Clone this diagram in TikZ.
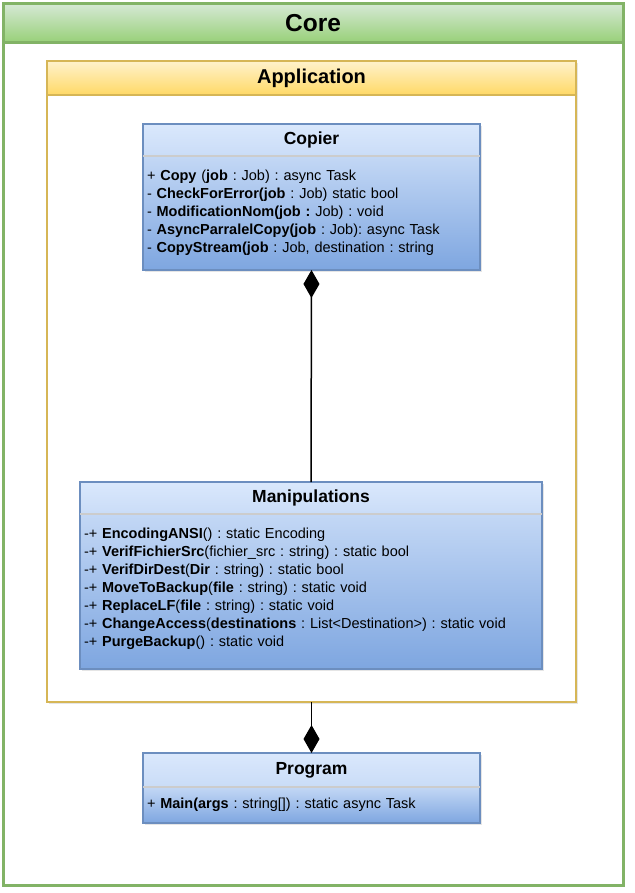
\documentclass[tikz,border=0pt]{standalone}
\usepackage{fontspec}
\setmainfont{Liberation Sans}
\usetikzlibrary{positioning,arrows.meta,shadows}
\frenchspacing

\definecolor{coreTop}{HTML}{D5E8D4}
\definecolor{coreBot}{HTML}{97D077}
\definecolor{coreLine}{HTML}{82B366}
\definecolor{appTop}{HTML}{FFF2CC}
\definecolor{appBot}{HTML}{FFD966}
\definecolor{appLine}{HTML}{D6B656}
\definecolor{classTop}{HTML}{DAE8FC}
\definecolor{classBot}{HTML}{7EA6E0}
\definecolor{classLine}{HTML}{6C8EBF}

\begin{document}
\begin{tikzpicture}[x=1pt,y=-1pt]
  \tikzset{BoxStyle/.style = {
    shape         = rectangle,
    draw          = none,
    inner sep     = 0pt,
    outer sep     = 0pt,
    text          = black,
    drop shadow   = {shadow xshift=2pt, shadow yshift=-2pt, opacity=0.2}
    }
  }
  \tikzset{CoreHeadStyle/.style = {
    BoxStyle,
    anchor        = north west,
    top color     = coreTop,
    bottom color  = coreBot,
    minimum width = 620pt,
    minimum height= 39pt,
    font          = \fontsize{24.5}{28}\selectfont\bfseries
    }
  }
  \tikzset{AppHeadStyle/.style = {
    BoxStyle,
    anchor        = north west,
    top color     = appTop,
    bottom color  = appBot,
    minimum width = 529pt,
    minimum height= 34pt,
    font          = \fontsize{20}{24}\selectfont\bfseries
    }
  }
  \tikzset{BlankBodyStyle/.style = {
    BoxStyle,
    fill          = white
    }
  }
  \tikzset{ClassHeadStyle/.style = {
    BoxStyle,
    anchor        = north west,
    top color     = classTop,
    bottom color  = classTop!82!classBot,
    font          = \fontsize{17.5}{21}\selectfont\bfseries
    }
  }
  \tikzset{ClassBodyStyle/.style = {
    BoxStyle,
    top color     = classTop!75!classBot,
    bottom color  = classBot,
    inner xsep    = 4pt,
    align         = left,
    font          = \fontsize{14.5}{18}\selectfont
    }
  }
  \tikzset{CoreLineStyle/.style  = {draw = coreLine,  line width = 3pt}}
  \tikzset{AppLineStyle/.style   = {draw = appLine,   line width = 1.5pt}}
  \tikzset{ClassLineStyle/.style = {draw = classLine, line width = 1.5pt}}
  \tikzset{SepLineStyle/.style   = {draw = black!20,  line width = 1.2pt}}
  \tikzset{CompositionStyle/.style = {
    draw          = black,
    line width    = 1.5pt,
    -{Diamond[length=28pt, width=16pt]}
    }
  }

  \useasboundingbox (0,0) rectangle (634,893);

  % Core container
  \node[CoreHeadStyle](coreHead) at (3,4) {Core};
  \node[BlankBodyStyle, minimum width=620pt, minimum height=842pt,
        below=0pt of coreHead](coreBody) {};
  \draw[CoreLineStyle](coreHead.north west) rectangle (coreBody.south east);
  \draw[CoreLineStyle](coreHead.south west) -- (coreHead.south east);

  % Application container
  \node[AppHeadStyle](appHead) at (47,61) {Application};
  \node[BlankBodyStyle, minimum width=529pt, minimum height=607pt,
        below=0pt of appHead](appBody) {};
  \draw[AppLineStyle](appHead.north west) rectangle (appBody.south east);
  \draw[AppLineStyle](appHead.south west) -- (appHead.south east);

  % Copier
  \node[ClassHeadStyle, minimum width=337pt, minimum height=32pt](copierHead) at (143,124) {Copier};
  \node[ClassBodyStyle, text width=329pt, minimum height=114pt,
        below=0pt of copierHead](copierBody) {%
    + \textbf{Copy} (\textbf{job} : Job) : async Task\\
    - \textbf{CheckForError(job} : Job) static bool\\
    - \textbf{ModificationNom(job :} Job) : void\\
    - \textbf{AsyncParralelCopy(job} : Job): async Task\\
    - \textbf{CopyStream(job} : Job, destination : string};
  \draw[ClassLineStyle](copierHead.north west) rectangle (copierBody.south east);
  \draw[SepLineStyle](copierHead.south west) -- (copierHead.south east);

  % Manipulations
  \node[ClassHeadStyle, minimum width=462pt, minimum height=32pt](manipHead) at (80,482) {Manipulations};
  \node[ClassBodyStyle, text width=454pt, minimum height=155pt,
        below=0pt of manipHead](manipBody) {%
    -+ \textbf{EncodingANSI}() : static Encoding\\
    -+ \textbf{VerifFichierSrc}(fichier\_src : string) : static bool\\
    -+ \textbf{VerifDirDest}(\textbf{Dir} : string) : static bool\\
    -+ \textbf{MoveToBackup}(\textbf{file} : string) : static void\\
    -+ \textbf{ReplaceLF}(\textbf{file} : string) : static void\\
    -+ \textbf{ChangeAccess}(\textbf{destinations} : List<Destination>) : static void\\
    -+ \textbf{PurgeBackup}() : static void\rule[-9pt]{0pt}{9pt}};
  \draw[ClassLineStyle](manipHead.north west) rectangle (manipBody.south east);
  \draw[SepLineStyle](manipHead.south west) -- (manipHead.south east);

  % Program
  \node[ClassHeadStyle, minimum width=337pt, minimum height=34pt](programHead) at (143,753) {Program};
  \node[ClassBodyStyle, text width=329pt, minimum height=36pt,
        below=0pt of programHead](programBody) {%
    + \textbf{Main(args} : string[]) : static async Task};
  \draw[ClassLineStyle](programHead.north west) rectangle (programBody.south east);
  \draw[SepLineStyle](programHead.south west) -- (programHead.south east);

  % compositions
  \draw[CompositionStyle](manipHead.north) -- (copierBody.south);
  \draw[CompositionStyle](appBody.south) -- (programHead.north);

\end{tikzpicture}
\end{document}
